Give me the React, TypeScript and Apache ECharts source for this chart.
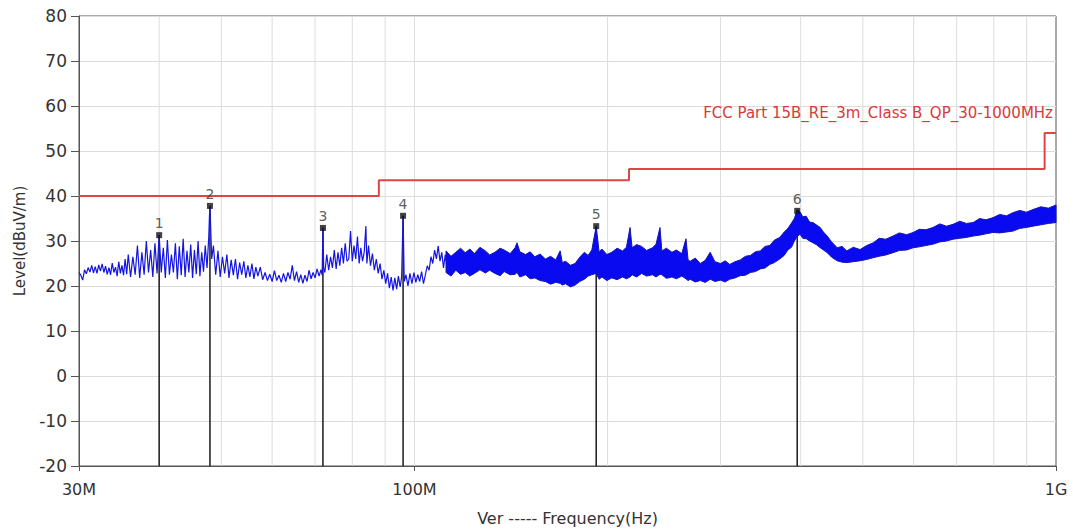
import React, { useEffect, useRef } from 'react';
import * as echarts from 'echarts';

// Low-frequency part of the measured trace (MHz, dBuV/m)
const lowFreq = [
  30.0, 30.2, 30.4, 30.6, 30.8, 31.0, 31.2, 31.4, 31.6, 31.8, 32.0, 32.2, 32.4, 32.6, 32.8, 33.0, 33.2, 33.4, 33.6, 33.8,
  34.0, 34.2, 34.4, 34.6, 34.8, 35.0, 35.2, 35.4, 35.6,
  35.8, 36.1, 36.4, 36.7, 37.0, 37.3, 37.6, 37.9, 38.2, 38.5, 38.8, 39.1, 39.4, 39.7, 40.0, 40.3, 40.6, 40.9, 41.2, 41.5,
  41.8, 42.1, 42.4, 42.7, 43.0, 43.3, 43.6, 43.9, 44.2, 44.5, 44.8, 45.1, 45.4, 45.7, 46.0, 46.3, 46.6, 46.9, 47.2, 47.5,
  47.8, 47.9, 48.0, 48.1, 48.3,
  48.6, 49.0, 49.4, 49.8, 50.2, 50.6, 51.0, 51.4, 51.8, 52.2, 52.6, 53.0, 53.4, 53.8, 54.2, 54.6, 55.0, 55.4, 55.8, 56.2, 56.6,
  57.0, 57.5, 58.0, 58.5, 59.0, 59.5, 60.0, 60.5, 61.0, 61.5, 62.0, 62.5, 63.0, 63.5, 64.0, 64.5, 65.0, 65.5, 66.0, 66.5,
  67.0, 67.5, 68.0, 68.5, 69.0, 69.5, 70.0, 70.5, 71.0, 71.5, 71.8, 72.0, 72.2,
  72.5, 73.0, 73.5, 74.0, 74.5, 75.0, 75.5, 76.0, 76.5, 77.0, 77.5, 78.0, 78.5, 79.0, 79.5, 80.0, 80.5, 81.0, 81.5, 82.0,
  82.5, 83.0, 83.5, 84.0, 84.3, 84.8,
  85.4, 86.0, 86.6, 87.2, 87.8, 88.4, 89.0, 89.6, 90.2, 90.8, 91.4, 92.0, 92.6, 93.2, 93.8, 94.4, 95.0, 95.5, 96.0, 96.4,
  97.0, 97.7, 98.4, 99.1, 99.8, 100.5, 101.2, 101.9, 102.6, 103.3, 104.0, 104.7, 105.4, 106.1, 106.8, 107.5, 108.2, 108.9,
  109.6, 110.3, 111.0, 111.7, 112.0,
];
const lowLevel = [
  23.0, 22.4, 21.3, 23.6, 22.7, 24.1, 23.1, 24.6, 22.9, 24.3, 22.8, 24.7, 23.3, 24.9, 23.0, 24.4, 22.6, 24.1, 22.5, 25.1,
  23.0, 24.2, 22.2, 25.4, 22.8, 24.6, 22.4, 26.0, 22.6,
  27.0, 22.0, 26.5, 22.5, 29.0, 21.8, 27.5, 22.5, 30.0, 23.0, 28.0, 22.0, 29.5, 22.8, 31.3, 23.0, 28.5, 21.8, 30.2, 22.5,
  27.0, 23.0, 29.5, 21.5, 28.8, 22.4, 30.5, 22.0, 27.8, 23.0, 29.2, 21.8, 28.0, 22.6, 30.0, 22.2, 27.5, 23.2, 29.0, 24.0,
  31.0, 35.0, 37.8, 34.0, 26.0,
  29.0, 22.5, 27.8, 22.0, 26.5, 22.8, 27.0, 21.8, 25.8, 22.4, 26.0, 21.5, 25.2, 22.5, 25.5, 21.8, 24.6, 22.0, 25.0, 21.6, 24.2,
  22.2, 24.2, 21.4, 23.0, 21.2, 22.6, 21.0, 23.4, 21.2, 22.4, 20.8, 22.8, 21.0, 23.0, 21.5, 24.6, 21.2, 23.2, 20.8, 22.5,
  20.6, 22.4, 21.0, 23.5, 21.6, 23.0, 21.8, 23.8, 22.2, 23.6, 22.4, 33.0, 24.0,
  23.0, 27.0, 23.5, 26.5, 24.0, 28.0, 23.8, 27.5, 24.5, 28.5, 25.0, 29.5, 25.5, 26.0, 32.2, 25.5, 29.0, 26.0, 31.0, 25.0,
  28.5, 25.5, 27.5, 33.3, 25.0, 29.0,
  24.5, 27.2, 23.5, 26.0, 22.8, 25.0, 21.5, 23.5, 20.5, 22.8, 19.5, 22.0, 19.0, 21.8, 19.3, 22.2, 19.8, 22.0, 35.6, 21.0,
  22.5, 20.0, 22.8, 20.5, 23.0, 20.8, 22.5, 21.0, 23.2, 20.5, 22.5, 24.5, 23.5, 26.5, 25.0, 28.0, 26.0, 28.9,
  25.5, 27.5, 24.0, 27.0, 25.5,
];

// High-frequency part: dense noise band, upper and lower envelope (MHz, dBuV/m)
const bandFreq = [
  112, 114, 116, 118, 120, 122, 124, 126.5, 129, 131, 133.5, 136, 138, 141, 143.5, 144.5, 146, 149, 151.5, 154,
  157, 160, 163, 166, 168.7, 170, 172, 175, 178, 181, 184, 186.5, 189, 192, 194, 196, 199.5, 203, 207, 211,
  214, 216.8, 218.4, 222, 226, 230, 235, 238, 241.4, 243, 247, 252, 256, 261, 265, 267, 269, 274, 279, 284,
  289, 294, 300, 305, 310, 316, 322, 328, 334, 340, 346, 352, 358, 364, 371, 377, 382, 387, 391, 395,
  399, 403, 408, 413, 418, 423, 429, 434, 440, 447, 456, 464, 472, 483, 495, 507, 519, 530, 543, 557,
  570, 585, 599, 612, 627, 643, 659, 675, 691, 708, 725, 743, 760, 778, 798, 817, 837, 857, 878, 899,
  921, 947, 973, 1000,
];
const bandHigh = [
  27.8, 26.6, 27.5, 28.4, 27.4, 28.2, 27.2, 28.6, 27.8, 26.9, 27.5, 28.4, 28.0, 27.2, 28.5, 29.6, 27.6, 27.0, 27.6, 26.5,
  27.1, 26.0, 26.6, 25.8, 27.8, 25.2, 25.5, 24.6, 25.0, 26.4, 27.5, 26.8, 28.0, 33.3, 27.6, 28.2, 27.0, 27.5, 28.4, 27.8,
  28.6, 33.0, 28.5, 29.2, 28.8, 27.9, 28.5, 29.3, 33.0, 27.8, 28.4, 27.5, 28.0, 27.2, 30.5, 25.8, 25.5, 26.2, 25.0, 25.7,
  27.5, 25.4, 25.0, 25.6, 24.8, 25.4, 25.8, 26.6, 26.8, 27.6, 27.8, 28.8, 29.0, 30.2, 30.8, 32.0, 32.8, 34.0, 35.0, 37.0,
  36.5, 35.4, 35.5, 34.2, 34.1, 33.6, 33.0, 32.0, 31.1, 29.8, 28.5, 28.8, 27.8, 28.6, 28.1, 29.0, 29.6, 30.6, 30.4, 31.1,
  31.8, 31.4, 31.9, 32.6, 32.5, 33.0, 33.8, 33.3, 33.7, 34.4, 33.9, 34.1, 35.0, 34.7, 35.2, 35.9, 35.6, 36.3, 36.8, 36.4,
  37.0, 37.6, 37.3, 38.0,
];
const bandLow = [
  23.0, 22.2, 23.5, 22.6, 23.0, 22.2, 22.8, 23.6, 22.9, 23.5, 22.8, 22.3, 23.2, 22.5, 22.6, 23.0, 22.0, 22.5, 21.6, 21.8,
  21.2, 21.0, 20.4, 20.8, 20.6, 20.2, 20.5, 19.8, 20.2, 21.0, 21.5, 22.2, 22.5, 22.8, 21.5, 22.0, 21.2, 21.8, 21.4, 22.0,
  21.6, 22.0, 22.5, 22.0, 22.8, 22.2, 22.5, 22.0, 22.6, 22.5, 21.7, 22.0, 21.6, 22.2, 21.6, 21.2, 21.5, 20.9, 21.2, 20.8,
  21.5, 21.0, 21.3, 20.9, 21.5, 21.8, 22.3, 22.4, 23.0, 23.2, 23.8, 24.0, 24.8, 25.2, 26.0, 26.8, 28.0, 28.6, 30.0, 31.0,
  31.5, 30.6, 30.5, 30.0, 29.6, 29.2, 28.5, 28.0, 27.4, 26.4, 25.6, 25.3, 25.2, 25.4, 25.6, 25.9, 26.3, 26.6, 26.9, 27.4,
  27.9, 28.0, 28.5, 28.7, 29.0, 29.3, 29.8, 30.0, 30.4, 30.6, 30.8, 31.1, 31.3, 31.6, 31.9, 31.8, 32.0, 32.2, 32.8, 33.0,
  33.3, 33.6, 33.9, 34.1,
];

// Limit line (FCC Part 15B Class B QP, 3 m)
const limitFreq = [30, 88, 88, 216, 216, 960, 960, 1000];
const limitLevel = [40, 40, 43.5, 43.5, 46, 46, 54, 54];
const limitName = 'FCC Part 15B_RE_3m_Class B_QP_30-1000MHz';

// Peak markers
const markerFreq = [40, 48, 72, 96, 192, 395];
const markerLevel = [31.3, 37.8, 32.9, 35.6, 33.3, 36.7];
const markerNames = ['1', '2', '3', '4', '5', '6'];

// Axis ticks
const gridFreq = [40, 50, 60, 70, 80, 90, 100, 200, 300, 400, 500, 600, 700, 800, 900];
const xTickValues = [30, 100, 1000];
const xTickLabels = ['30M', '100M', '1G'];

const FONT = 'Tahoma, "DejaVu Sans", sans-serif';

export default function App() {
  const ref = useRef<HTMLDivElement>(null);

  useEffect(() => {
    if (!ref.current) return;
    const chart = echarts.init(ref.current, null, { renderer: 'svg' });

    const option: any = {
      animation: false,
      backgroundColor: '#ffffff',
      grid: {
        left: 79,
        right: 17,
        top: 16,
        bottom: 66,
        show: true,
        borderColor: '#555555',
        borderWidth: 1,
        backgroundColor: 'transparent',
        outerBoundsMode: 'none',
      },
      xAxis: {
        type: 'log',
        logBase: 10,
        min: 30,
        max: 1000,
        name: 'Ver ----- Frequency(Hz)',
        nameLocation: 'middle',
        nameGap: 44,
        nameTextStyle: { fontFamily: FONT, fontSize: 16, color: '#333333' },
        axisLine: { show: true, onZero: false, lineStyle: { color: '#555555', width: 1 } },
        axisTick: { show: true, customValues: xTickValues, length: 5, lineStyle: { color: '#555555' } },
        axisLabel: {
          customValues: xTickValues,
          formatter: (v: number) => {
            const i = xTickValues.findIndex((t) => Math.abs(t - v) < 1e-6 * t);
            return i >= 0 ? xTickLabels[i] : '';
          },
          fontFamily: FONT,
          fontSize: 16,
          color: '#333333',
          margin: 15,
        },
        splitLine: { show: false },
      },
      yAxis: {
        type: 'value',
        min: -20,
        max: 80,
        interval: 10,
        name: 'Level(dBuV/m)',
        nameLocation: 'middle',
        nameGap: 52,
        nameTextStyle: { fontFamily: FONT, fontSize: 15, color: '#333333' },
        axisLine: { show: true, lineStyle: { color: '#555555', width: 1 } },
        axisTick: { show: true, length: 8, lineStyle: { color: '#555555' } },
        axisLabel: { fontFamily: FONT, fontSize: 17, color: '#333333', margin: 12 },
        splitLine: { show: true, lineStyle: { color: '#dcdcdc', width: 1 } },
      },
      graphic: [
        {
          type: 'text',
          x: 1053,
          y: 113,
          z: 100,
          style: {
            text: limitName,
            fill: '#d83a3a',
            font: '15px ' + FONT,
            align: 'right',
            verticalAlign: 'middle',
          },
        },
      ],
      series: [
        {
          name: 'grid',
          type: 'custom',
          z: 0,
          silent: true,
          data: gridFreq.map((f) => [f, 30]),
          encode: { x: 0, y: 1 },
          renderItem: (params: any, api: any) => {
            const f = api.value(0);
            const p1 = api.coord([f, 80]);
            const p2 = api.coord([f, -20]);
            return {
              type: 'line',
              shape: { x1: p1[0], y1: p1[1], x2: p2[0], y2: p2[1] },
              style: { stroke: '#dcdcdc', lineWidth: 1 },
            };
          },
        },
        {
          name: 'markerLines',
          type: 'custom',
          z: 1,
          silent: true,
          data: markerFreq.map((f, i) => [f, markerLevel[i]]),
          encode: { x: 0, y: 1 },
          renderItem: (params: any, api: any) => {
            const f = api.value(0);
            const p1 = api.coord([f, api.value(1)]);
            const p2 = api.coord([f, -20]);
            return {
              type: 'line',
              shape: { x1: p1[0], y1: p1[1], x2: p2[0], y2: p2[1] },
              style: { stroke: '#1a1a1a', lineWidth: 1.5 },
            };
          },
        },
        {
          name: 'band',
          type: 'custom',
          z: 2,
          silent: true,
          data: [[bandFreq[0], bandLow[0]]],
          encode: { x: 0, y: 1 },
          renderItem: (params: any, api: any) => {
            const pts: number[][] = [];
            for (let i = 0; i < bandFreq.length; i++) pts.push(api.coord([bandFreq[i], bandHigh[i]]));
            for (let i = bandFreq.length - 1; i >= 0; i--) pts.push(api.coord([bandFreq[i], bandLow[i]]));
            return {
              type: 'polygon',
              shape: { points: pts },
              style: { fill: '#0a0af0', stroke: '#1515b0', lineWidth: 1 },
            };
          },
        },
        {
          name: 'Ver',
          type: 'line',
          z: 3,
          silent: true,
          showSymbol: false,
          symbol: 'none',
          data: lowFreq.map((f, i) => [f, lowLevel[i]]),
          lineStyle: { color: '#1414e0', width: 1.2 },
        },
        {
          name: 'limit',
          type: 'line',
          z: 4,
          silent: true,
          showSymbol: false,
          symbol: 'none',
          data: limitFreq.map((f, i) => [f, limitLevel[i]]),
          lineStyle: { color: '#e04444', width: 2 },
        },
        {
          name: 'markers',
          type: 'scatter',
          z: 5,
          silent: true,
          symbol: 'rect',
          symbolSize: 6,
          data: markerFreq.map((f, i) => [f, markerLevel[i]]),
          itemStyle: { color: '#111111' },
          label: {
            show: true,
            position: 'top',
            distance: 2,
            formatter: (p: any) => markerNames[p.dataIndex],
            fontFamily: FONT,
            fontSize: 14,
            color: '#333333',
          },
        },
      ],
    };

    chart.setOption(option);
    return () => chart.dispose();
  }, []);

  return (
    <div
      ref={ref}
      style={{ position: 'fixed', left: 0, top: 0, width: '1073px', height: '532px', background: '#fff' }}
    />
  );
}
